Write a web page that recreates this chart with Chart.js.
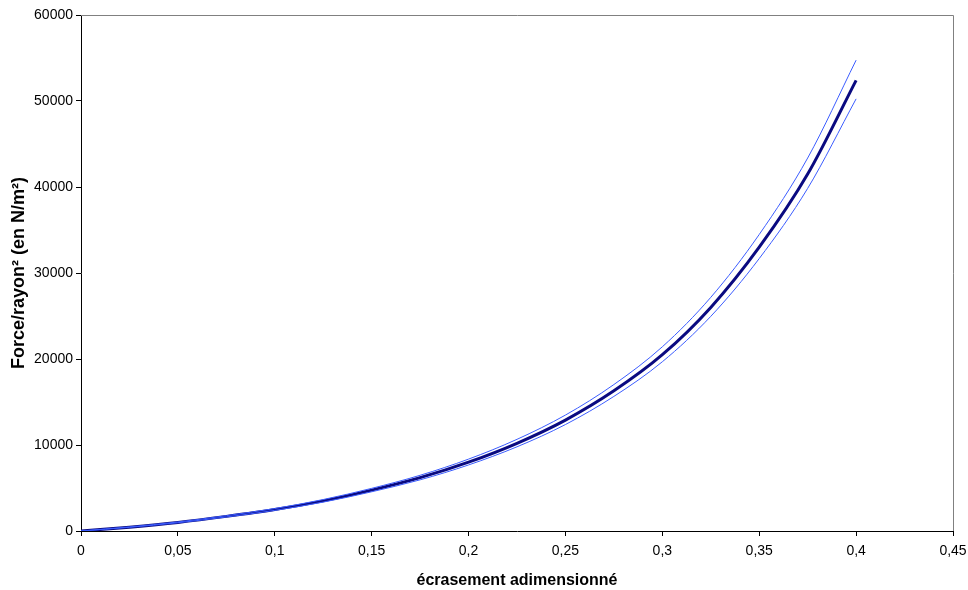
<!DOCTYPE html>
<html>
<head>
<meta charset="utf-8">
<script src="https://cdn.jsdelivr.net/npm/chart.js@4.4.1/dist/chart.umd.min.js"></script>
<style>
  html, body { margin: 0; padding: 0; background: #fff; }
  canvas { display: block; }
</style>
</head>
<body>
<canvas id="chart" width="968" height="590"></canvas>
<script>
// Data
const xValues = [0, 0.025, 0.05, 0.075, 0.1, 0.125, 0.15, 0.175, 0.2, 0.225, 0.25, 0.275, 0.3, 0.325, 0.35, 0.375, 0.4];
const centerValues = [0, 450, 1000, 1700, 2500, 3500, 4750, 6200, 8000, 10200, 12900, 16300, 20500, 26000, 33000, 41500, 52400];
const upperValues = [0, 470, 1045, 1780, 2610, 3660, 4960, 6480, 8360, 10660, 13480, 17030, 21420, 27170, 34480, 43370, 54750];
const lowerValues = [0, 432, 960, 1630, 2400, 3360, 4560, 5950, 7680, 9790, 12380, 15650, 19680, 24960, 31680, 39840, 50250];

const xTicks = [0, 0.05, 0.1, 0.15, 0.2, 0.25, 0.3, 0.35, 0.4, 0.45];
const yTicks = [0, 10000, 20000, 30000, 40000, 50000, 60000];

const xTitle = "écrasement adimensionné";
const yTitle = "Force/rayon² (en N/m²)";

const FONT = "'Liberation Sans', Arial, sans-serif";

function toPoints(ys) {
    return xValues.map((x, i) => ({ x: x, y: ys[i] }));
}

// gray frame on top and right edges of the plot area
const framePlugin = {
    id: 'frame',
    afterDraw(chart) {
        const a = chart.chartArea;
        const ctx = chart.ctx;
        ctx.save();
        ctx.strokeStyle = '#808080';
        ctx.lineWidth = 1;
        ctx.beginPath();
        ctx.moveTo(a.left, a.top + 0.5);
        ctx.lineTo(a.right + 0.5, a.top + 0.5);
        ctx.lineTo(a.right + 0.5, a.bottom);
        ctx.stroke();
        ctx.restore();
    }
};

new Chart(document.getElementById('chart'), {
    type: 'line',
    data: {
        datasets: [
            {
                label: 'haut',
                data: toPoints(upperValues),
                borderColor: '#3b5cff',
                borderWidth: 1,
                pointRadius: 0,
                cubicInterpolationMode: 'monotone'
            },
            {
                label: 'bas',
                data: toPoints(lowerValues),
                borderColor: '#3b5cff',
                borderWidth: 1,
                pointRadius: 0,
                cubicInterpolationMode: 'monotone'
            },
            {
                label: 'moyenne',
                data: toPoints(centerValues),
                borderColor: '#0a0a80',
                borderWidth: 3,
                pointRadius: 0,
                cubicInterpolationMode: 'monotone'
            }
        ]
    },
    options: {
        responsive: false,
        animation: false,
        devicePixelRatio: 1,
        layout: { padding: { left: 0, right: 15, top: 15, bottom: 0 } },
        plugins: {
            legend: { display: false },
            tooltip: { enabled: false }
        },
        scales: {
            x: {
                type: 'linear',
                min: 0,
                max: 0.45,
                afterBuildTicks: s => { s.ticks = xTicks.map(v => ({ value: v })); },
                afterFit: s => { s.height = 59; s.paddingLeft = 0; s.paddingRight = 0; },
                border: { color: '#000', width: 1 },
                grid: { drawOnChartArea: false, drawTicks: true, tickLength: 5, color: '#000' },
                ticks: {
                    color: '#000',
                    font: { family: FONT, size: 14 },
                    padding: 7,
                    maxRotation: 0,
                    callback: v => String(v).replace('.', ',')
                },
                title: {
                    display: true,
                    text: xTitle,
                    color: '#000',
                    font: { family: FONT, size: 16, weight: 'bold' },
                    padding: { top: 9, bottom: 0 }
                }
            },
            y: {
                min: 0,
                max: 60000,
                afterBuildTicks: s => { s.ticks = yTicks.map(v => ({ value: v })); },
                afterFit: s => { s.width = 81; s.paddingTop = 0; s.paddingBottom = 0; },
                border: { color: '#000', width: 1 },
                grid: { drawOnChartArea: false, drawTicks: true, tickLength: 5, color: '#000' },
                ticks: {
                    color: '#000',
                    font: { family: FONT, size: 14 },
                    padding: 3,
                    callback: v => String(v)
                },
                title: {
                    display: true,
                    text: yTitle,
                    color: '#000',
                    font: { family: FONT, size: 18, weight: 'bold' },
                    padding: { top: 8, bottom: 0 }
                }
            }
        }
    },
    plugins: [framePlugin]
});
</script>
</body>
</html>
